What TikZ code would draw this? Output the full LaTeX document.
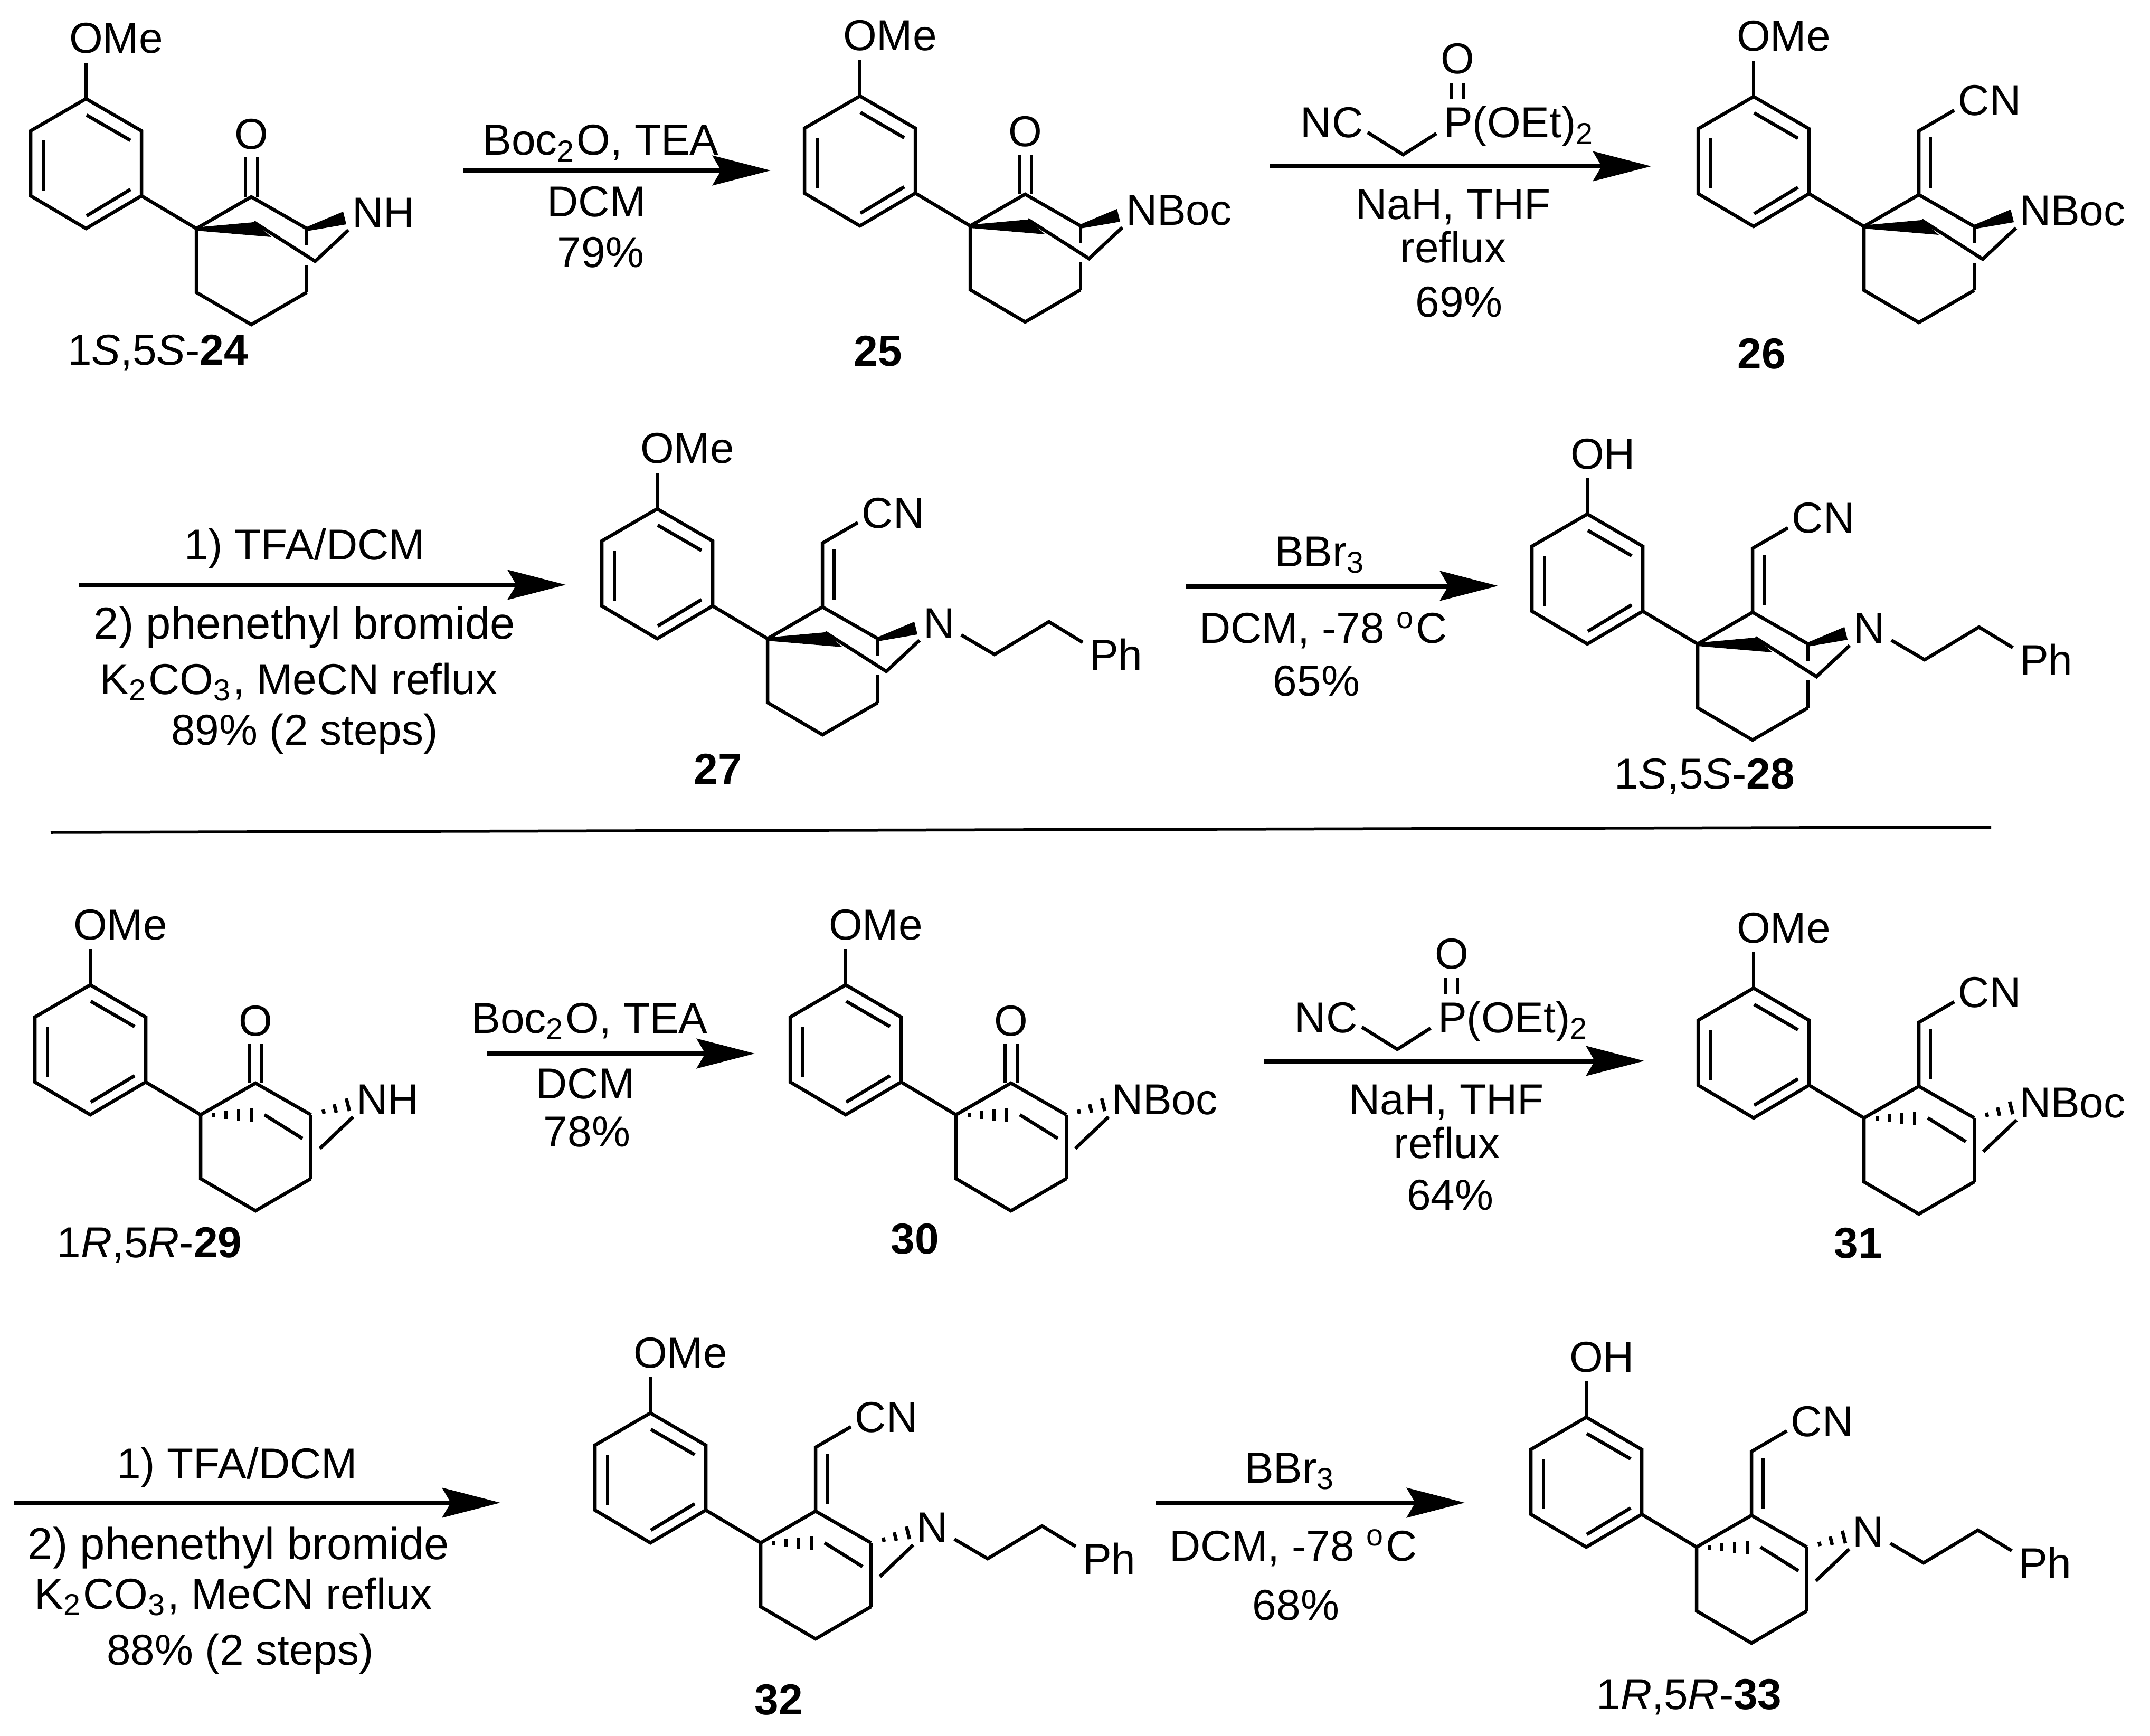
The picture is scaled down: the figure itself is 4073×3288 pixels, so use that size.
\documentclass[tikz,border=0pt]{standalone}
\usepackage{fontspec}
\setmainfont{Liberation Sans}
\usetikzlibrary{arrows.meta}
\tikzset{
  bond/.style={line width=0.65pt,line join=miter,line cap=butt},
  rxn/.style={line width=0.9pt,-{Stealth[length=11pt,width=5.6pt,inset=1.6pt]}},
  sepline/.style={line width=0.55pt},
  txt/.style={inner sep=0pt,outer sep=0pt,anchor=base,yshift=-2.9pt,font=\fontsize{8.2}{9.8}\selectfont},
  txtw/.style={txt,anchor=base west},
  widetxt/.style={txt,font=\fontsize{8.5}{10}\selectfont},
}
% aromatic ring with substituent; origin at quaternary carbon
\newcommand{\arylring}[2]{%
  \draw[bond] (-209,-246) -- (-104,-185) -- (-104,-62) -- (-209,0) -- (-314,-62) -- (-314,-185) -- cycle;
  \draw[bond] (-208,-215) -- (-125,-167);
  \draw[bond] (-290,-167) -- (-290,-72);
  \draw[bond] (-208,-24) -- (-125,-74);
  \draw[bond] (-209,-246) -- (-209,-314);
  \draw[bond] (-104,-62) -- (0,0);
  \node[txtw] (#1-sub) at (-241,-361) {#2};
}
\newcommand{\bicyclebase}{%
  \draw[bond] (0,0) -- (104,-60) -- (209,0);
  \draw[bond] (0,0) -- (0,121) -- (104,182) -- (209,121);
}
% wedge-drawn bridge
\newcommand{\bridgeup}{%
  \bicyclebase
  \draw[bond] (209,121) -- (209,69);
  \draw[bond] (209,0) -- (209,32);
  \fill (-2,-2) -- (109,-12) -- (142,16) -- (0,4) -- cycle;
  \fill (209,-3) -- (278,-32) -- (284,-8) -- (209,5) -- cycle;
  \draw[bond] (109,-12) -- (225,62) -- (288,3);
}
% hashed bridge
\newcommand{\bridgedown}{%
  \bicyclebase
  \draw[bond] (209,121) -- (209,0);
  \draw[bond] (25,-3) -- (25,5);
  \draw[bond] (48,-7) -- (48,8);
  \draw[bond] (72,-10) -- (72,11);
  \draw[bond] (96,-12) -- (96,13);
  \draw[bond] (121,0) -- (193,45);
  \draw[bond] (226,64) -- (289,4);
  \draw[bond] (232,-10) -- (234,-2);
  \draw[bond] (253,-20) -- (257,-4);
  \draw[bond] (276,-31) -- (282,-7);
}
\newcommand{\ketone}[1]{%
  \draw[bond] (93,-135) -- (93,-60);
  \draw[bond] (116,-135) -- (116,-60);
  \node[txt] (#1-o) at (104,-179) {O};
}
\newcommand{\cyanoalkene}[1]{%
  \draw[bond] (104,-60) -- (104,-181) -- (171,-220);
  \draw[bond] (126,-169) -- (126,-73);
  \node[txt] (#1-cn) at (238,-239) {CN};
}
\newcommand{\nitrogen}[2]{\node[txtw] (#1-n) at (295,-30) {#2};}
\newcommand{\phenethyl}[1]{%
  \draw[bond] (367,-7) -- (430,30) -- (533,-32) -- (597,7);
  \node[txtw] (#1-ph) at (610,30) {Ph};
}
\newcommand{\hwe}[3]{%
  \begin{scope}[shift={(#2,#3)}]
    \node[txt] (#1-nc) at (2523,232) {NC};
    \node[txtw] (#1-p) at (2735,232) {P(OEt)\textsubscript{2}};
    \node[txt] (#1-po) at (2761,111) {O};
    \draw[bond] (2750,157) -- (2750,188);
    \draw[bond] (2772,157) -- (2772,188);
    \draw[bond] (2591,251) -- (2658,293) -- (2721,253);
  \end{scope}
}
\begin{document}
\begin{tikzpicture}[x=0.1pt,y=-0.1pt]
\useasboundingbox (0,0) rectangle (4073,3288);

% 24
\begin{scope}[shift={(372,433)}]
  \arylring{m24}{OMe}\bridgeup\ketone{m24}\nitrogen{m24}{NH}
\end{scope}
\node[txt] (l24) at (299,663) {1\textit{S},5\textit{S}-\textbf{24}};
% 25
\begin{scope}[shift={(1838,428)}]
  \arylring{m25}{OMe}\bridgeup\ketone{m25}\nitrogen{m25}{NBoc}
\end{scope}
\node[txt] (l25) at (1663,665) {\textbf{25}};
% 26
\begin{scope}[shift={(3531,429)}]
  \arylring{m26}{OMe}\bridgeup\cyanoalkene{m26}\nitrogen{m26}{NBoc}
\end{scope}
\node[txt] (l26) at (3337,670) {\textbf{26}};
% 27
\begin{scope}[shift={(1454,1210)}]
  \arylring{m27}{OMe}\bridgeup\cyanoalkene{m27}\nitrogen{m27}{N}\phenethyl{m27}
\end{scope}
\node[txt] (l27) at (1360,1456) {\textbf{27}};
% 28
\begin{scope}[shift={(3216,1220)}]
  \arylring{m28}{OH}\bridgeup\cyanoalkene{m28}\nitrogen{m28}{N}\phenethyl{m28}
\end{scope}
\node[txt] (l28) at (3229,1465) {1\textit{S},5\textit{S}-\textbf{28}};
% 29
\begin{scope}[shift={(380,2112)}]
  \arylring{m29}{OMe}\bridgedown\ketone{m29}\nitrogen{m29}{NH}
\end{scope}
\node[txt] (l29) at (283,2353) {1\textit{R},5\textit{R}-\textbf{29}};
% 30
\begin{scope}[shift={(1811,2112)}]
  \arylring{m30}{OMe}\bridgedown\ketone{m30}\nitrogen{m30}{NBoc}
\end{scope}
\node[txt] (l30) at (1733,2346) {\textbf{30}};
% 31
\begin{scope}[shift={(3531,2118)}]
  \arylring{m31}{OMe}\bridgedown\cyanoalkene{m31}\nitrogen{m31}{NBoc}
\end{scope}
\node[txt] (l31) at (3520,2354) {\textbf{31}};
% 32
\begin{scope}[shift={(1441,2923)}]
  \arylring{m32}{OMe}\bridgedown\cyanoalkene{m32}\nitrogen{m32}{N}\phenethyl{m32}
\end{scope}
\node[txt] (l32) at (1475,3219) {\textbf{32}};
% 33
\begin{scope}[shift={(3214,2931)}]
  \arylring{m33}{OH}\bridgedown\cyanoalkene{m33}\nitrogen{m33}{N}\phenethyl{m33}
\end{scope}
\node[txt] (l33) at (3200,3209) {1\textit{R},5\textit{R}-\textbf{33}};

% arrows
\coordinate (a1s) at (878,323);   \coordinate (a1e) at (1460,323);
\coordinate (a2s) at (2406,315);  \coordinate (a2e) at (3128,315);
\coordinate (a3s) at (149,1108);  \coordinate (a3e) at (1072,1108);
\coordinate (a4s) at (2247,1110); \coordinate (a4e) at (2838,1110);
\coordinate (a5s) at (922,1996);  \coordinate (a5e) at (1430,1996);
\coordinate (a6s) at (2394,2010); \coordinate (a6e) at (3115,2010);
\coordinate (a7s) at (26,2847);   \coordinate (a7e) at (948,2847);
\coordinate (a8s) at (2190,2847); \coordinate (a8e) at (2775,2847);
\foreach \n in {1,...,8} {\draw[rxn] (a\n s) -- (a\n e);}
\coordinate (seps) at (96,1577); \coordinate (sepe) at (3772,1567);
\draw[sepline] (seps) -- (sepe);

% reagents
\node[txt] (r1a) at (1138,265) {Boc\textsubscript{2}O, TEA};
\node[txt] (r1b) at (1130,382) {DCM};
\node[txt] (r1c) at (1138,478) {79\%};
\hwe{r2}{0}{0}
\node[txt] (r2a) at (2753,387) {NaH, THF};
\node[txt] (r2b) at (2753,469) {reflux};
\node[txt] (r2c) at (2764,572) {69\%};
\node[txt] (r3a) at (577,1031) {1) TFA/DCM};
\node[widetxt] (r3b) at (577,1182) {2) phenethyl bromide};
\node[txt] (r3c) at (566,1286) {K\textsubscript{2}CO\textsubscript{3}, MeCN reflux};
\node[txt] (r3d) at (577,1382) {89\% (2 steps)};
\node[txt] (r4a) at (2502,1044) {BBr\textsubscript{3}};
\node[txt] (r4b) at (2507,1190) {DCM, -78 \textsuperscript{o}C};
\node[txt] (r4c) at (2494,1289) {65\%};
\node[txt] (r5a) at (1117,1928) {Boc\textsubscript{2}O, TEA};
\node[txt] (r5b) at (1109,2052) {DCM};
\node[txt] (r5c) at (1112,2143) {78\%};
\hwe{r6}{-11}{1695}
\node[txt] (r6a) at (2740,2082) {NaH, THF};
\node[txt] (r6b) at (2741,2165) {reflux};
\node[txt] (r6c) at (2747,2263) {64\%};
\node[txt] (r7a) at (449,2772) {1) TFA/DCM};
\node[widetxt] (r7b) at (452,2925) {2) phenethyl bromide};
\node[txt] (r7c) at (442,3019) {K\textsubscript{2}CO\textsubscript{3}, MeCN reflux};
\node[txt] (r7d) at (455,3125) {88\% (2 steps)};
\node[txt] (r8a) at (2445,2780) {BBr\textsubscript{3}};
\node[txt] (r8b) at (2450,2928) {DCM, -78 \textsuperscript{o}C};
\node[txt] (r8c) at (2455,3040) {68\%};
\end{tikzpicture}
\end{document}
